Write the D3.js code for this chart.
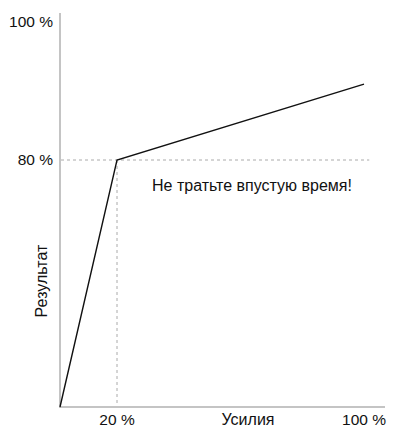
<!DOCTYPE html>
<html>
<head>
<meta charset="utf-8">
<script src="https://cdn.jsdelivr.net/npm/d3@7"></script>
<style>
  body { margin: 0; background: #fff; }
  text { font-family: "Liberation Sans", Arial, sans-serif; fill: #111; }
</style>
</head>
<body>
<svg width="396" height="441"></svg>
<script>
// effort (%) vs result (%)
var effort = [0, 20, 100];
var result = [0, 80, 91];
var xTicks = [20, 100];
var yTicks = [80, 100];
var xTitle = "Усилия";
var yTitle = "Результат";
var note = "Не тратьте впустую время!";

var svg = d3.select("svg"),
  width = +svg.attr("width"),
  height = +svg.attr("height");

// schematic axes: label positions are not strictly linear
var x = d3.scaleLinear().domain([0, 20, 100, 108]).range([60, 117, 364, 385]);
var y = d3.scaleLinear().domain([0, 80, 100, 103]).range([407, 160, 22, 13]);

var g = svg.append("g");

// axis lines
g.append("line")
  .attr("x1", x(0)).attr("x2", x(0))
  .attr("y1", y(0) + 1).attr("y2", y(103))
  .attr("stroke", "#c4c4c4").attr("stroke-width", 2);
g.append("line")
  .attr("x1", x(0) - 1).attr("x2", x(108))
  .attr("y1", y(0)).attr("y2", y(0))
  .attr("stroke", "#c4c4c4").attr("stroke-width", 2);

// guide lines at the knee
var knee = 1;
g.append("line")
  .attr("x1", x(0) + 1).attr("x2", x(102))
  .attr("y1", y(result[knee])).attr("y2", y(result[knee]))
  .attr("stroke", "#aaa").attr("stroke-width", 1)
  .attr("stroke-dasharray", "3,3");
g.append("line")
  .attr("x1", x(effort[knee])).attr("x2", x(effort[knee]))
  .attr("y1", y(result[knee])).attr("y2", y(0) - 1)
  .attr("stroke", "#aaa").attr("stroke-width", 1)
  .attr("stroke-dasharray", "3,3");

// the curve
var line = d3.line()
  .x(function(d, i) { return x(effort[i]); })
  .y(function(d, i) { return y(result[i]); });

g.append("path")
  .datum(effort)
  .attr("d", line)
  .attr("fill", "none")
  .attr("stroke", "#111")
  .attr("stroke-width", 1.4);

// tick labels
g.selectAll(".xt")
  .data(xTicks)
  .enter()
  .append("text")
  .attr("class", "xt")
  .attr("x", function(d) { return x(d); })
  .attr("y", 425)
  .attr("text-anchor", "middle")
  .attr("font-size", 15.5)
  .text(function(d) { return d + " %"; });

g.selectAll(".yt")
  .data(yTicks)
  .enter()
  .append("text")
  .attr("class", "yt")
  .attr("x", 53)
  .attr("y", function(d) { return y(d); })
  .attr("dy", "0.35em")
  .attr("text-anchor", "end")
  .attr("font-size", 15.5)
  .text(function(d) { return d + " %"; });

// titles
g.append("text")
  .attr("x", 248)
  .attr("y", 425)
  .attr("text-anchor", "middle")
  .attr("font-size", 16)
  .text(xTitle);

g.append("text")
  .attr("transform", "translate(47,281) rotate(-90)")
  .attr("text-anchor", "middle")
  .attr("font-size", 16)
  .text(yTitle);

g.append("text")
  .attr("x", 152)
  .attr("y", 185)
  .attr("dy", "0.35em")
  .attr("font-size", 16)
  .text(note);
</script>
</body>
</html>
